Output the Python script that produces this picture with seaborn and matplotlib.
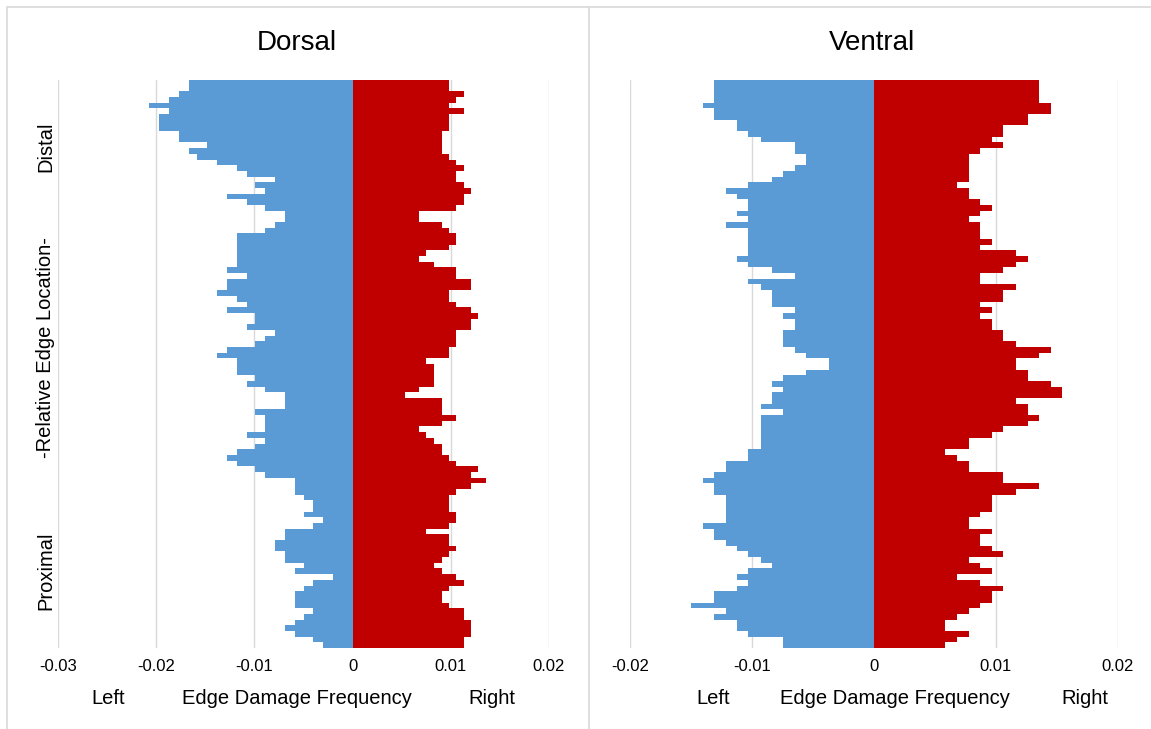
import numpy as np
import pandas as pd
import seaborn as sns
import matplotlib
matplotlib.use("Agg")
import matplotlib.pyplot as plt
from matplotlib.lines import Line2D

# ---------------- data ----------------
dorsal_left = [
    -0.0167, -0.0167, -0.0177, -0.0187, -0.0207, -0.0187, -0.0197, -0.0197, -0.0197, -0.0177,
    -0.0177, -0.0148, -0.0167, -0.0158, -0.0138, -0.0118, -0.0108, -0.0079, -0.0099, -0.0089,
    -0.0128, -0.0108, -0.0089, -0.0069, -0.0069, -0.0079, -0.0089, -0.0118, -0.0118, -0.0118,
    -0.0118, -0.0118, -0.0118, -0.0128, -0.0108, -0.0128, -0.0128, -0.0138, -0.0118, -0.0108,
    -0.0128, -0.0099, -0.0099, -0.0108, -0.0079, -0.0089, -0.0099, -0.0128, -0.0138, -0.0118,
    -0.0118, -0.0118, -0.0099, -0.0108, -0.0089, -0.0069, -0.0069, -0.0069, -0.0099, -0.0089,
    -0.0089, -0.0089, -0.0108, -0.0089, -0.0099, -0.0118, -0.0128, -0.0118, -0.0099, -0.0089,
    -0.0059, -0.0059, -0.0059, -0.0049, -0.0040, -0.0040, -0.0049, -0.0030, -0.0040, -0.0069,
    -0.0069, -0.0079, -0.0079, -0.0069, -0.0069, -0.0049, -0.0059, -0.0020, -0.0040, -0.0049,
    -0.0059, -0.0059, -0.0059, -0.0040, -0.0049, -0.0059, -0.0069, -0.0059, -0.0040, -0.0030,
]
dorsal_right = [
    0.0098, 0.0098, 0.0113, 0.0105, 0.0098, 0.0113, 0.0098, 0.0098, 0.0098, 0.0091,
    0.0091, 0.0091, 0.0091, 0.0098, 0.0105, 0.0113, 0.0105, 0.0105, 0.0113, 0.0121,
    0.0113, 0.0113, 0.0105, 0.0068, 0.0068, 0.0091, 0.0098, 0.0105, 0.0105, 0.0098,
    0.0075, 0.0068, 0.0083, 0.0105, 0.0105, 0.0121, 0.0121, 0.0098, 0.0098, 0.0105,
    0.0121, 0.0128, 0.0121, 0.0121, 0.0105, 0.0105, 0.0105, 0.0098, 0.0098, 0.0075,
    0.0083, 0.0083, 0.0083, 0.0083, 0.0068, 0.0053, 0.0091, 0.0091, 0.0091, 0.0105,
    0.0091, 0.0068, 0.0075, 0.0083, 0.0091, 0.0091, 0.0098, 0.0105, 0.0128, 0.0121,
    0.0136, 0.0121, 0.0105, 0.0098, 0.0098, 0.0098, 0.0105, 0.0105, 0.0098, 0.0075,
    0.0098, 0.0098, 0.0105, 0.0098, 0.0091, 0.0083, 0.0091, 0.0105, 0.0113, 0.0098,
    0.0091, 0.0091, 0.0098, 0.0113, 0.0113, 0.0121, 0.0121, 0.0121, 0.0113, 0.0113,
]
ventral_left = [
    -0.0131, -0.0131, -0.0131, -0.0131, -0.0140, -0.0131, -0.0131, -0.0112, -0.0112, -0.0103,
    -0.0093, -0.0065, -0.0065, -0.0056, -0.0056, -0.0065, -0.0075, -0.0084, -0.0103, -0.0121,
    -0.0112, -0.0103, -0.0103, -0.0112, -0.0103, -0.0121, -0.0103, -0.0103, -0.0103, -0.0103,
    -0.0103, -0.0112, -0.0103, -0.0084, -0.0065, -0.0103, -0.0093, -0.0084, -0.0084, -0.0084,
    -0.0065, -0.0075, -0.0065, -0.0065, -0.0075, -0.0075, -0.0075, -0.0065, -0.0056, -0.0037,
    -0.0037, -0.0056, -0.0075, -0.0084, -0.0075, -0.0084, -0.0084, -0.0093, -0.0075, -0.0093,
    -0.0093, -0.0093, -0.0093, -0.0093, -0.0093, -0.0103, -0.0103, -0.0121, -0.0121, -0.0131,
    -0.0140, -0.0131, -0.0131, -0.0121, -0.0121, -0.0121, -0.0121, -0.0121, -0.0140, -0.0131,
    -0.0131, -0.0121, -0.0112, -0.0103, -0.0093, -0.0084, -0.0103, -0.0112, -0.0103, -0.0112,
    -0.0131, -0.0131, -0.0150, -0.0121, -0.0131, -0.0112, -0.0112, -0.0103, -0.0075, -0.0075,
]
ventral_right = [
    0.0135, 0.0135, 0.0135, 0.0135, 0.0145, 0.0145, 0.0126, 0.0126, 0.0106, 0.0106,
    0.0097, 0.0106, 0.0087, 0.0078, 0.0078, 0.0078, 0.0078, 0.0078, 0.0068, 0.0078,
    0.0078, 0.0087, 0.0097, 0.0087, 0.0078, 0.0087, 0.0087, 0.0087, 0.0097, 0.0087,
    0.0116, 0.0126, 0.0116, 0.0106, 0.0087, 0.0087, 0.0116, 0.0106, 0.0106, 0.0087,
    0.0097, 0.0087, 0.0097, 0.0097, 0.0106, 0.0106, 0.0116, 0.0145, 0.0135, 0.0116,
    0.0116, 0.0126, 0.0126, 0.0145, 0.0154, 0.0154, 0.0116, 0.0126, 0.0126, 0.0135,
    0.0126, 0.0106, 0.0097, 0.0078, 0.0078, 0.0058, 0.0068, 0.0078, 0.0078, 0.0106,
    0.0106, 0.0135, 0.0116, 0.0097, 0.0097, 0.0097, 0.0087, 0.0078, 0.0078, 0.0097,
    0.0087, 0.0087, 0.0097, 0.0106, 0.0078, 0.0087, 0.0097, 0.0068, 0.0087, 0.0106,
    0.0097, 0.0097, 0.0087, 0.0078, 0.0068, 0.0058, 0.0058, 0.0078, 0.0068, 0.0058,
]
dorsal_ticks = [-0.03, -0.02, -0.01, 0.0, 0.01, 0.02]
dorsal_ticklabels = ["-0.03", "-0.02", "-0.01", "0", "0.01", "0.02"]
ventral_ticks = [-0.02, -0.01, 0.0, 0.01, 0.02]
ventral_ticklabels = ["-0.02", "-0.01", "0", "0.01", "0.02"]
panel_titles = ["Dorsal", "Ventral"]
axis_title = "Edge Damage Frequency"
side_names = ["Left", "Right"]
y_title = "-Relative Edge Location-"
y_ends = ["Distal", "Proximal"]

BLUE = "#5B9BD5"
RED = "#C00000"
GRID = "#D9D9D9"

sns.set_theme(style="white")
plt.rcParams["font.family"] = ["Liberation Sans", "DejaVu Sans"]
plt.rcParams["text.color"] = "#000000"

W, H = 1151, 729
fig = plt.figure(figsize=(W / 100, H / 100), dpi=100)


def make_df(left, right):
    n = len(left)
    rows = list(range(n))
    return pd.DataFrame({
        "row": rows + rows,
        "value": list(left) + list(right),
        "side": ["Left"] * n + ["Right"] * n,
    })


def draw_panel(rect, left, right, ticks, ticklabels, xlim):
    ax = fig.add_axes(rect)
    df = make_df(left, right)
    sns.barplot(data=df, x="value", y="row", hue="side", orient="h",
                palette={"Left": BLUE, "Right": RED}, dodge=False, width=1.0,
                legend=False, ax=ax, linewidth=0, saturation=1)
    for p in ax.patches:
        p.set_antialiased(False)
    ax.set_xlim(*xlim)
    ax.set_ylim(len(left) - 0.5, -0.5)
    ax.set_xticks(ticks)
    ax.set_xticklabels(ticklabels, fontsize=12, color="#000000")
    ax.set_yticks([])
    ax.set_xlabel("")
    ax.set_ylabel("")
    ax.tick_params(axis="x", length=0, pad=8)
    ax.grid(axis="x", color=GRID, linewidth=1.0)
    ax.set_axisbelow(True)
    for s in ax.spines.values():
        s.set_visible(False)
    return ax


def fx(px):
    return px / W


def fy(py):
    return 1 - py / H


ax1 = draw_panel([fx(58), fy(648), fx(549 - 58), (648 - 80) / H],
                 dorsal_left, dorsal_right, dorsal_ticks, dorsal_ticklabels,
                 (-0.03, 0.02))
ax2 = draw_panel([fx(630), fy(648), fx(1118 - 630), (648 - 80) / H],
                 ventral_left, ventral_right, ventral_ticks, ventral_ticklabels,
                 (-0.02, 0.02))

# titles
fig.text(fx(297), fy(50), panel_titles[0], fontsize=20, ha="center", va="baseline", color="black")
fig.text(fx(872), fy(50), panel_titles[1], fontsize=20, ha="center", va="baseline", color="black")

# bottom labels
for xl, xm, xr in [(108, 297, 492), (713, 895, 1085)]:
    fig.text(fx(xl), fy(704), side_names[0], fontsize=14.5, ha="center", va="baseline", color="black")
    fig.text(fx(xm), fy(704), axis_title, fontsize=14.5, ha="center", va="baseline", color="black")
    fig.text(fx(xr), fy(704), side_names[1], fontsize=14.5, ha="center", va="baseline", color="black")

# y labels (dorsal only)
for txt, yc in [(y_ends[0], 147), (y_title, 348), (y_ends[1], 571)]:
    fig.text(fx(51), fy(yc), txt, fontsize=14.5, rotation=90, color="black",
             rotation_mode="anchor", ha="center", va="baseline")

# chart borders
for (x0, y0, x1, y1) in [(7, 7, 1151, 7), (7, 7, 7, 729), (589, 7, 589, 729)]:
    fig.add_artist(Line2D([fx(x0), fx(x1)], [fy(y0), fy(y1)],
                          color=GRID, linewidth=1.2, transform=fig.transFigure))

fig.savefig("out.png", dpi=100)
